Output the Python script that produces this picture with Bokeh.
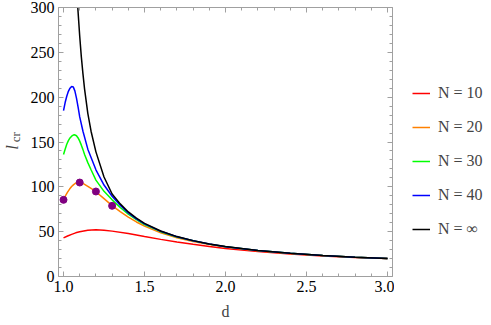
from bokeh.plotting import figure
from bokeh.layouts import row
from bokeh.models import (Range1d, LinearAxis, FixedTicker, Legend, LegendItem,
                          Label, NumeralTickFormatter)
from bokeh.embed import file_html
from bokeh.resources import INLINE
from math import pi

# ---- data ----
inf_d = [1.088, 1.10, 1.11, 1.12, 1.13, 1.15, 1.17, 1.20, 1.25, 1.30, 1.35, 1.40, 1.45,
         1.50, 1.60, 1.70, 1.80, 1.90, 2.00, 2.20, 2.40, 2.60, 2.80, 3.00]
inf_l = [300, 268, 245, 226, 209, 182, 162, 139, 111, 92, 81, 72, 65,
         59.2, 50.7, 44.5, 40.0, 36.3, 33.4, 29.0, 25.9, 23.5, 21.6, 20.0]

n40_d = [1.00, 1.01, 1.02, 1.03, 1.04, 1.05, 1.06, 1.07, 1.08, 1.09, 1.10, 1.12, 1.15,
         1.20, 1.25, 1.30, 1.35, 1.40, 1.45, 1.50, 1.60, 1.70, 1.80, 1.90, 2.00,
         2.20, 2.40, 2.60, 2.80, 3.00]
n40_l = [185, 194, 201, 206.5, 210, 212, 211.5, 207, 199, 189, 178, 162, 142,
         119, 102, 89.5, 79.5, 71, 64.3, 58.7, 50.4, 44.3, 39.9, 36.2, 33.3,
         28.9, 25.8, 23.4, 21.6, 20.0]

n30_d = [1.00, 1.01, 1.02, 1.03, 1.04, 1.05, 1.06, 1.07, 1.08, 1.09, 1.10, 1.11, 1.12,
         1.13, 1.15, 1.17, 1.20, 1.25, 1.30, 1.35, 1.40, 1.45, 1.50, 1.60, 1.70,
         1.80, 1.90, 2.00, 2.20, 2.40, 2.60, 2.80, 3.00]
n30_l = [136, 142, 147.5, 151.5, 154.5, 156.5, 157.7, 158, 157, 154.5, 151, 146.5, 141.5,
         136, 127, 119, 107.5, 95, 85.5, 77, 69.5, 63.5, 58, 50, 44.1,
         39.8, 36.1, 33.2, 28.9, 25.8, 23.4, 21.6, 20.0]

n20_d = [1.00, 1.0125, 1.025, 1.0375, 1.05, 1.0625, 1.075, 1.0875, 1.10, 1.125, 1.15,
         1.175, 1.20, 1.25, 1.30, 1.35, 1.40, 1.45, 1.50, 1.60, 1.70, 1.80, 1.90,
         2.00, 2.20, 2.40, 2.60, 2.80, 3.00]
n20_l = [85.5, 90.2, 94, 97.5, 100.3, 102.5, 104, 104.7, 104.8, 103.3, 100.6,
         97.6, 94.5, 86.8, 79, 72.3, 66.3, 60.8, 56.2, 48.7, 43.2, 39.0, 35.6,
         32.9, 28.6, 25.6, 23.3, 21.5, 20.0]

n10_d = [1.00, 1.025, 1.05, 1.075, 1.10, 1.15, 1.20, 1.25, 1.30, 1.40, 1.50, 1.60,
         1.70, 1.80, 1.90, 2.00, 2.20, 2.40, 2.60, 2.80, 3.00]
n10_l = [43, 45.2, 47, 48.7, 50, 51.6, 52, 51.6, 50.6, 47.9, 44.6, 41.4,
         38.5, 35.9, 33.5, 31.3, 27.8, 25.1, 23.0, 21.3, 20.0]

dots_d = [1.0, 1.1, 1.2, 1.3]
dots_l = [85.5, 104.8, 94.8, 78.8]

series = [("N = 10", n10_d, n10_l, "#FF0000"),
          ("N = 20", n20_d, n20_l, "#FF8000"),
          ("N = 30", n30_d, n30_l, "#00FF00"),
          ("N = 40", n40_d, n40_l, "#0000FF"),
          ("N = \u221e", inf_d, inf_l, "#000000")]

x_major = [1.0, 1.5, 2.0, 2.5, 3.0]
x_minor = [round(1.0 + 0.1 * i, 1) for i in range(21)]
y_major = [0, 50, 100, 150, 200, 250, 300]
y_minor = list(range(0, 301, 10))

FONT = "Liberation Serif"
AX = "#A0A0A0"
H = 322

# ---------------- main plot ----------------
p = figure(width=367, height=H,
           x_range=Range1d(0.969, 3.031), y_range=Range1d(0, 300),
           output_backend="svg", toolbar_location=None,
           min_border_left=31, min_border_top=7, min_border_right=2,
           min_border_bottom=46)
p.outline_line_color = None
p.xgrid.visible = False
p.ygrid.visible = False

def style(ax, major, minor, labels=True):
    ax.ticker = FixedTicker(ticks=major, minor_ticks=minor)
    ax.axis_line_color = AX
    ax.major_tick_line_color = AX
    ax.minor_tick_line_color = AX
    ax.major_tick_in = 5
    ax.major_tick_out = 0
    ax.minor_tick_in = 3
    ax.minor_tick_out = 0
    if labels:
        ax.major_label_text_font = FONT
        ax.major_label_text_font_size = "16px"
        ax.major_label_text_color = "black"
    else:
        ax.major_label_text_font_size = "0px"
        ax.major_label_text_color = None
        ax.major_label_text_alpha = 0
        ax.major_label_standoff = 0

xb = p.xaxis[0]
style(xb, x_major, x_minor)
xb.formatter = NumeralTickFormatter(format="0.0")
xb.major_label_standoff = 4
xb.axis_label = "d"
xb.axis_label_text_font = FONT
xb.axis_label_text_font_size = "16px"
xb.axis_label_text_font_style = "normal"
xb.axis_label_standoff = 8

yl = p.yaxis[0]
style(yl, y_major, y_minor)
yl.major_label_standoff = 4

xt = LinearAxis()
style(xt, x_major, x_minor, labels=False)
p.add_layout(xt, "above")
yr = LinearAxis()
style(yr, y_major, y_minor, labels=False)
p.add_layout(yr, "right")

for name, dd, ll, col in series:
    p.line(dd, ll, line_color=col, line_width=1.5)

p.scatter(dots_d, dots_l, size=7, fill_color="#800080", line_color="#800080")

# ---------------- y-axis title panel ----------------
p0 = figure(width=27, height=H, x_range=Range1d(0, 1), y_range=Range1d(0, 1),
            x_axis_type=None, y_axis_type=None, output_backend="svg",
            toolbar_location=None, min_border=0)
p0.outline_line_color = None
p0.xgrid.visible = False
p0.ygrid.visible = False
p0.add_layout(Label(x=12, y=129, x_units="screen", y_units="screen", text="l",
                    angle=pi / 2, text_font=FONT, text_font_size="17px",
                    text_font_style="italic", text_baseline="middle",
                    text_align="center"))
p0.add_layout(Label(x=15, y=139.3, x_units="screen", y_units="screen", text="cr",
                    angle=pi / 2, text_font=FONT, text_font_size="13px",
                    text_baseline="middle", text_align="center"))

# ---------------- legend panel ----------------
# series lines are drawn here far outside this panel's visible range; only their
# legend glyphs show
p2 = figure(width=97, height=H, x_range=Range1d(0, 1), y_range=Range1d(0, 1),
            x_axis_type=None, y_axis_type=None, output_backend="svg",
            toolbar_location=None, min_border=0)
p2.outline_line_color = None
p2.xgrid.visible = False
p2.ygrid.visible = False
items = []
for name, dd, ll, col in series:
    r = p2.line(dd, ll, line_color=col, line_width=1.5)
    items.append(LegendItem(label=name, renderers=[r]))
legend = Legend(items=items, location=(18, 37))
legend.label_text_font = FONT
legend.label_text_font_size = "16px"
legend.glyph_width = 18
legend.glyph_height = 20
legend.label_height = 20
legend.spacing = 14
legend.padding = 0
legend.margin = 0
legend.label_standoff = 8
legend.border_line_color = None
legend.background_fill_alpha = 0
p2.add_layout(legend, "center")

layout = row(p0, p, p2, spacing=0)
open("out.html", "w").write(file_html(layout, INLINE))
